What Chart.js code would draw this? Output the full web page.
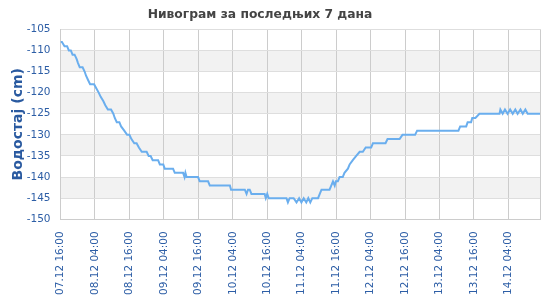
<!DOCTYPE html>
<html>
<head>
<meta charset="utf-8">
<script src="https://cdn.jsdelivr.net/npm/chart.js@4"></script>
<style>
  html, body { margin: 0; padding: 0; background: #ffffff; }
  #wrap { width: 550px; height: 300px; }
</style>
</head>
<body>
<div id="wrap"><canvas id="c" width="550" height="300"></canvas></div>
<script>
const chartTitle = 'Нивограм за последњих 7 дана';
const yTitle = 'Водостај (cm)';
// Hours since 07.12 16:00 at which each reading was taken
const hours = [
  0, 0.5, 1.4, 2.3, 2.9, 3.6, 4.2, 4.9, 5.6, 6.1, 6.7, 7.7, 8.4, 8.9, 9.6, 10.3, 11.7,
  12.5, 13.3, 14.0, 14.9, 15.6, 16.5, 17.6, 18.4, 18.9, 19.6, 20.5, 21.1, 22.2, 23.2, 24.0,
  24.7, 25.7, 26.5, 27.3, 28.3, 30.0, 30.7, 31.4, 32.1, 34.0, 34.6, 35.8, 36.3, 39.2, 39.8,
  42.7, 43.2, 43.5, 43.9, 47.9, 48.5, 51.4, 52.0, 59.0, 59.4, 64.2, 64.8, 65.3, 65.9, 66.5,
  71.1, 71.5, 72.0, 72.5, 78.7, 79.2, 79.8, 81.2, 82.2, 83.1, 83.9, 84.7, 85.6, 86.3, 87.0,
  87.7, 89.7, 90.3, 90.9, 93.7, 94.3, 94.9, 95.5, 95.9, 96.6, 97.2, 98.3, 98.9, 100.1, 100.7,
  101.8, 103.0, 104.2, 105.3, 106.3, 108.2, 108.8, 113.2, 113.9, 118.1, 119.1, 123.5, 124.2,
  138.6, 139.2, 141.3, 141.8, 143.0, 143.4, 144.5, 145.9, 152.9, 153.2, 154.0, 154.8, 155.7,
  156.6, 157.5, 158.4, 159.2, 160.2, 161.0, 161.9, 162.7, 167
];
// Water level (cm)
const levels = [
  -108, -108, -109, -109, -110, -110, -111, -111, -112, -113, -114, -114, -115, -116, -117, -118, -118,
  -119, -120, -121, -122, -123, -124, -124, -125, -126, -127, -127, -128, -129, -130, -130,
  -131, -132, -132, -133, -134, -134, -135, -135, -136, -136, -137, -137, -138, -138, -139,
  -139, -140, -139, -140, -140, -141, -141, -142, -142, -143, -143, -144, -143, -143, -144,
  -144, -145, -144, -145, -145, -146, -145, -145, -146, -145, -146, -145, -146, -145, -146,
  -145, -145, -144, -143, -143, -142, -141, -142, -141, -141, -140, -140, -139, -138, -137,
  -136, -135, -134, -134, -133, -133, -132, -132, -131, -131, -130, -130, -129,
  -129, -128, -128, -127, -127, -126, -126, -125, -125, -124, -125, -124, -125,
  -124, -125, -124, -125, -124, -125, -124, -125, -125
];
// Tick labels every 12 hours
const tickLabels = [
  '07.12 16:00', '08.12 04:00', '08.12 16:00', '09.12 04:00', '09.12 16:00',
  '10.12 04:00', '10.12 16:00', '11.12 04:00', '11.12 16:00', '12.12 04:00',
  '12.12 16:00', '13.12 04:00', '13.12 16:00', '14.12 04:00'
];
const yTicks = [-150, -145, -140, -135, -130, -125, -120, -115, -110, -105];

const points = hours.map((h, i) => ({ x: h, y: levels[i] }));
const fontFam = "'DejaVu Sans', sans-serif";

const deco = {
  id: 'deco',
  beforeDraw(chart) {
    const { ctx, chartArea: a, scales } = chart;
    const y = scales.y;
    ctx.save();
    ctx.fillStyle = '#f2f2f2';
    for (let i = 0; i < yTicks.length - 1; i++) {
      if (i % 2 === 1) {
        const y1 = y.getPixelForValue(yTicks[i + 1]);
        const y2 = y.getPixelForValue(yTicks[i]);
        ctx.fillRect(a.left, y1, a.right - a.left, y2 - y1);
      }
    }
    ctx.restore();
  },
  beforeDatasetsDraw(chart) {
    const { ctx, chartArea: a } = chart;
    ctx.save();
    ctx.strokeStyle = '#cccccc';
    ctx.lineWidth = 1;
    ctx.beginPath();
    ctx.moveTo(Math.round(a.right) + 0.5, a.top);
    ctx.lineTo(Math.round(a.right) + 0.5, a.bottom);
    ctx.stroke();
    ctx.restore();
  },
  afterDraw(chart) {
    const { ctx } = chart;
    ctx.save();
    ctx.font = 'bold 12.3px ' + fontFam;
    ctx.fillStyle = '#444444';
    ctx.textAlign = 'center';
    ctx.textBaseline = 'middle';
    ctx.fillText(chartTitle, 260, 14.7);
    ctx.restore();
  }
};

const tickColor = '#2d5ea6';

new Chart(document.getElementById('c'), {
  type: 'line',
  data: {
    datasets: [{
      data: points,
      borderColor: '#6aaeee',
      borderWidth: 2,
      pointRadius: 0,
      tension: 0,
      fill: false
    }]
  },
  options: {
    responsive: false,
    animation: false,
    layout: { padding: { left: 0, right: 10, top: 29.3, bottom: 0 } },
    plugins: {
      legend: { display: false },
      tooltip: { enabled: false },
      title: { display: false }
    },
    scales: {
      x: {
        type: 'linear',
        min: 0,
        max: 167,
        afterFit(s) { s.height = 80.7; },
        grid: { color: '#cccccc', drawTicks: false },
        border: { color: '#cccccc' },
        ticks: {
          stepSize: 12,
          includeBounds: false,
          autoSkip: false,
          minRotation: 90,
          maxRotation: 90,
          padding: 12,
          color: tickColor,
          font: { family: fontFam, size: 10.5 },
          callback: (v) => tickLabels[Math.round(v / 12)]
        }
      },
      y: {
        min: -150,
        max: -105,
        afterFit(s) { s.width = 60.5; },
        grid: { color: '#dedede', drawTicks: false },
        border: { color: '#cccccc' },
        ticks: {
          stepSize: 5,
          padding: 10,
          color: tickColor,
          font: { family: fontFam, size: 10.5 }
        },
        title: {
          display: true,
          text: yTitle,
          color: '#2a5aa0',
          font: { family: fontFam, size: 14, weight: 'bold' },
          padding: { top: 10, bottom: 0 }
        }
      }
    }
  },
  plugins: [deco]
});
</script>
</body>
</html>
